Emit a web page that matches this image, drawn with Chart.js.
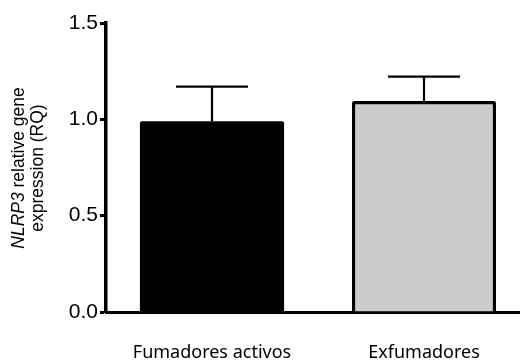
<!DOCTYPE html>
<html>
<head>
<meta charset="utf-8">
<script src="https://cdn.jsdelivr.net/npm/chart.js@4"></script>
<style>
  html, body { margin: 0; padding: 0; background: #fff; overflow: hidden; }
  #wrap { width: 540px; height: 360px; }
</style>
</head>
<body>
<div id="wrap"><canvas id="myChart"></canvas></div>
<script>
const groups = ['Fumadores activos', 'Exfumadores'];
const meanRQ = [0.99, 1.095];
const semRQ = [0.18, 0.127];
const yTicks = [0, 0.5, 1.0, 1.5];

// error bars (mean + SEM, upper only)
const errorBars = {
    id: 'errorBars',
    afterDatasetsDraw(chart) {
        const ctx = chart.ctx;
        const y = chart.scales.y;
        const meta = chart.getDatasetMeta(0);
        ctx.save();
        ctx.strokeStyle = '#000';
        ctx.lineWidth = 2.2;
        meta.data.forEach(function (bar, i) {
            const top = y.getPixelForValue(meanRQ[i] + semRQ[i]);
            ctx.beginPath();
            ctx.moveTo(bar.x, bar.y);
            ctx.lineTo(bar.x, top);
            ctx.moveTo(bar.x - 36, top);
            ctx.lineTo(bar.x + 36, top);
            ctx.stroke();
        });
        ctx.restore();
    }
};

// y title with italic gene name
const yTitle = {
    id: 'yTitle',
    afterDraw(chart) {
        const ctx = chart.ctx;
        ctx.save();
        ctx.translate(0, 168);
        ctx.rotate(-Math.PI / 2);
        ctx.fillStyle = '#000';
        ctx.textBaseline = 'middle';
        const f1 = 'italic 17.5px "Liberation Sans", Arial, sans-serif';
        const f2 = '17.5px "Liberation Sans", Arial, sans-serif';
        ctx.font = f1;
        const w1 = ctx.measureText('NLRP3').width;
        ctx.font = f2;
        const w2 = ctx.measureText(' relative gene').width;
        let x0 = -(w1 + w2) / 2;
        ctx.textAlign = 'left';
        ctx.font = f1;
        ctx.fillText('NLRP3', x0, 19.5);
        ctx.font = f2;
        ctx.fillText(' relative gene', x0 + w1, 19.5);
        ctx.textAlign = 'center';
        ctx.fillText('expression (RQ)', 0, 38);
        ctx.restore();
    }
};

const ctx = document.getElementById('myChart').getContext('2d');
const myChart = new Chart(ctx, {
    type: 'bar',
    data: {
        labels: groups,
        datasets: [{
            data: meanRQ,
            backgroundColor: ['#000000', '#cccccc'],
            borderColor: '#000',
            borderWidth: [0, 3.5],
            borderRadius: 2,
            borderSkipped: 'bottom',
            barPercentage: 0.68,
            categoryPercentage: 1
        }]
    },
    options: {
        responsive: true,
        maintainAspectRatio: false,
        animation: false,
        layout: { padding: { top: 23, right: 10, left: 0, bottom: 0 } },
        plugins: {
            legend: { display: false },
            tooltip: { enabled: false }
        },
        scales: {
            x: {
                grid: { display: false },
                border: { color: '#000', width: 3 },
                ticks: {
                    color: '#000',
                    padding: 22,
                    font: { family: '"Noto Sans", sans-serif', size: 18 }
                },
                afterFit(scale) { scale.height = 48; }
            },
            y: {
                min: 0,
                max: 1.5,
                afterBuildTicks(scale) {
                    scale.ticks = yTicks.map(v => ({ value: v }));
                },
                grid: {
                    drawOnChartArea: false,
                    tickLength: 6,
                    tickWidth: 3,
                    tickColor: '#000'
                },
                border: { color: '#000', width: 3.5 },
                ticks: {
                    color: '#000',
                    padding: 2,
                    font: { family: '"Liberation Sans", Arial, sans-serif', size: 21 },
                    callback: v => v.toFixed(1)
                },
                afterFit(scale) { scale.width = 106; }
            }
        }
    },
    plugins: [errorBars, yTitle]
});
</script>
</body>
</html>
